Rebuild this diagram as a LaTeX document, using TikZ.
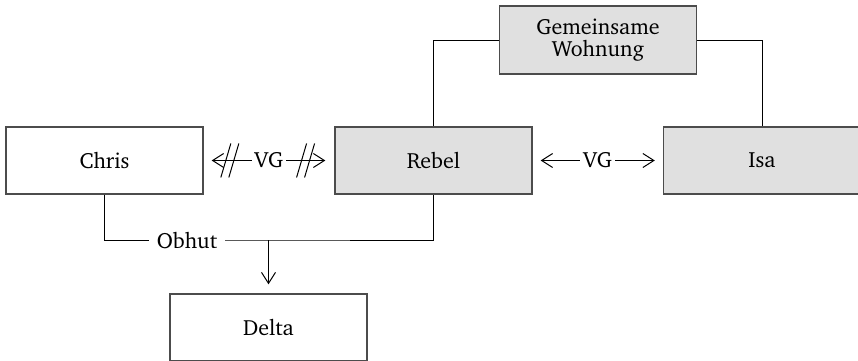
\documentclass[tikz,border=0pt]{standalone}
\usepackage[T1]{fontenc}
\usepackage{charter}
\usetikzlibrary{arrows.meta}

\begin{document}
\begin{tikzpicture}[x=0.5pt,y=-0.5pt,
  every node/.style={font=\fontsize{11}{11}\selectfont},
  box/.style={draw=black!70, line width=0.7pt, minimum width=98.5pt,
    minimum height=33.5pt, inner sep=0pt, align=center},
  shadedbox/.style={box, fill=black!12},
  conn/.style={line width=0.5pt},
  barb/.tip={Straight Barb[length=5.5pt,width=7pt]},
  label/.style={fill=white, inner ysep=2pt},
  stroke/.style={line width=0.5pt}]

\useasboundingbox (0,0) rectangle (858,360);

% people and the shared flat
\node[box]       (chris) at (104.5,160.5) {Chris};
\node[shadedbox] (rebel) at (433.5,160.5) {Rebel};
\node[shadedbox] (isa)   at (762,160.5)   {Isa};
\node[shadedbox, minimum height=34pt] (flat) at (598,40) {Gemeinsame\\Wohnung};
\node[box]       (delta) at (268.5,327.5) {Delta};

% shared flat
\draw[conn] (flat.west) -| (rebel.north);
\draw[conn] (flat.east) -| (isa.north);

% custody
\coordinate (split) at (268.5,240);
\draw[conn] (chris.south) |- (split) -| (rebel.south);
\node[fill=white, inner xsep=4pt, inner ysep=2pt] (obhut) at (187,240) {Obhut};
\draw[conn, -{barb}, shorten >=4.5pt] (split) -- (delta.north);

% VG relations
\draw[conn, {barb}-{barb}, shorten <=4pt, shorten >=4.5pt]
  (chris.east) -- coordinate[pos=0.2] (cut1)
  node[label, inner xsep=1.5pt] (vg1) {VG}
  coordinate[pos=0.78] (cut2) (rebel.west);
\draw[conn, {barb}-{barb}, shorten <=4pt, shorten >=4pt]
  (rebel.east) -- node[label, inner xsep=1.5pt] (vg2) {VG} (isa.west);

% double strokes across the first VG relation
\foreach \c in {cut1,cut2} {
  \draw[stroke] ([shift={(-4.5pt,-8.5pt)}]\c) -- ([shift={(0.5pt,8.5pt)}]\c);
  \draw[stroke] ([shift={(-0.5pt,-8.5pt)}]\c) -- ([shift={(4.5pt,8.5pt)}]\c);
}

\end{tikzpicture}
\end{document}
